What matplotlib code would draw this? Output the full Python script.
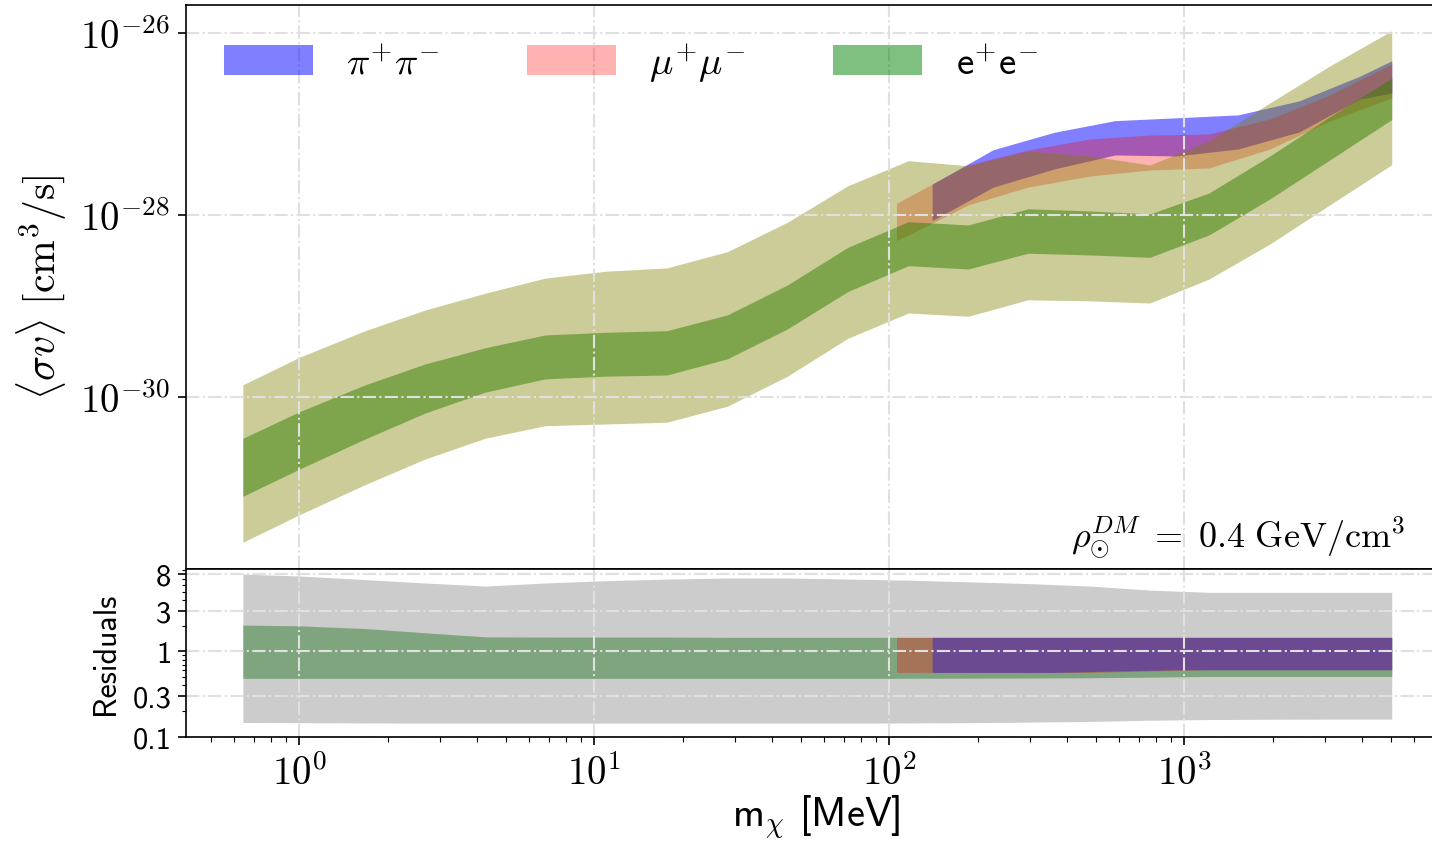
import numpy as np
import matplotlib
matplotlib.use("Agg")
import matplotlib.pyplot as plt
from matplotlib.patches import Patch
from matplotlib.ticker import (FixedLocator, FixedFormatter, NullLocator,
                               NullFormatter, LogLocator, FuncFormatter)

plt.rcParams['mathtext.fontset'] = 'cm'

# ---------------- data ----------------
mass_e = [0.643, 1.0, 1.67, 2.67, 4.26, 6.81, 10.9, 17.6, 28.2, 45.1, 72.3,
          116, 185, 295, 479, 764, 1211, 1950, 3110, 5047]
e_2s_up = [1.35e-30, 2.71e-30, 5.31e-30, 8.97e-30, 1.37e-29, 2.01e-29, 2.39e-29,
           2.60e-29, 3.92e-29, 8.25e-29, 2.08e-28, 3.92e-28, 3.45e-28, 5.01e-28,
           4.42e-28, 3.52e-28, 6.46e-28, 1.69e-27, 4.31e-27, 1.05e-26]
e_1s_up = [3.49e-31, 6.84e-31, 1.35e-30, 2.29e-30, 3.45e-30, 4.77e-30, 5.10e-30,
           5.31e-30, 7.91e-30, 1.69e-29, 4.38e-29, 8.38e-29, 7.71e-29, 1.16e-28,
           1.10e-28, 1.02e-28, 1.73e-28, 4.42e-28, 1.19e-27, 3.18e-27]
e_1s_lo = [8.04e-32, 1.60e-31, 3.43e-31, 6.62e-31, 1.12e-30, 1.57e-30, 1.68e-30,
           1.73e-30, 2.60e-30, 5.55e-30, 1.43e-29, 2.75e-29, 2.53e-29, 3.77e-29,
           3.61e-29, 3.40e-29, 5.98e-29, 1.49e-28, 3.99e-28, 1.11e-27]
e_2s_lo = [2.51e-32, 5.05e-32, 1.08e-31, 2.07e-31, 3.49e-31, 4.80e-31, 5.01e-31,
           5.24e-31, 7.85e-31, 1.68e-30, 4.38e-30, 8.31e-30, 7.65e-30, 1.16e-29,
           1.13e-29, 1.07e-29, 1.96e-29, 4.76e-29, 1.28e-28, 3.54e-28]

mass_mu = [105.7, 116, 185, 295, 479, 764, 1211, 1950, 3110, 5047]
mu_up = [1.33e-28, 1.57e-28, 3.52e-28, 5.14e-28, 6.79e-28, 7.51e-28, 7.71e-28,
         1.13e-27, 2.07e-27, 4.53e-27]
mu_lo = [5.18e-29, 5.98e-29, 1.28e-28, 2.01e-28, 2.66e-28, 3.10e-28, 3.26e-28,
         5.27e-28, 1.07e-27, 1.92e-27]

mass_pi = [139.6, 225, 362, 582, 938, 1521, 2449, 3944, 5047]
pi_up = [2.17e-28, 5.18e-28, 8.04e-28, 1.08e-27, 1.16e-27, 1.25e-27, 1.78e-27,
         3.34e-27, 4.92e-27]
pi_lo = [8.59e-29, 2.01e-28, 3.18e-28, 4.53e-28, 4.42e-28, 5.27e-28, 8.11e-28,
         1.87e-27, 2.17e-27]

# residuals
res_2s_up = [8.0, 7.6, 6.9, 6.3, 5.8, 6.3, 6.7, 7.0, 7.2, 7.2, 7.0, 6.8, 6.5,
             6.2, 5.8, 5.2, 4.9, 4.9, 4.9, 4.9]
res_2s_lo = [0.148, 0.147, 0.146, 0.145, 0.145, 0.145, 0.145, 0.145, 0.145, 0.145,
             0.145, 0.146, 0.147, 0.149, 0.152, 0.157, 0.160, 0.161, 0.162, 0.162]
res_1s_up = [2.03, 1.99, 1.85, 1.65, 1.48, 1.47, 1.47, 1.47, 1.46, 1.46, 1.46,
             1.46, 1.46, 1.46, 1.46, 1.46, 1.46, 1.46, 1.46, 1.46]
res_1s_lo = [0.484, 0.484, 0.484, 0.484, 0.484, 0.484, 0.484, 0.484, 0.484, 0.484,
             0.484, 0.485, 0.486, 0.488, 0.492, 0.50, 0.51, 0.51, 0.51, 0.51]
res_mu_up = [1.46, 1.46, 1.46, 1.46, 1.46, 1.46, 1.46, 1.46, 1.46, 1.46]
res_mu_lo = [0.568, 0.568, 0.568, 0.568, 0.568, 0.59, 0.61, 0.61, 0.61, 0.61]
res_pi_up = [1.46, 1.46, 1.46, 1.46, 1.46, 1.46, 1.46, 1.46, 1.46]
res_pi_lo = [0.568, 0.568, 0.568, 0.59, 0.61, 0.61, 0.61, 0.61, 0.61]

res_ticks = [0.1, 0.3, 1, 3, 8]
res_ticklabels = ['0.1', '0.3', '1', '3', '8']
labels = [r'$\pi^{+}\pi^{-}$', r'$\mu^{+}\mu^{-}$', r'e$^{+}$e$^{-}$']

SANS = 'cmss10'

# ---------------- figure ----------------
W, H = 1432, 845
fig = plt.figure(figsize=(W / 100, H / 100), dpi=100)


def px_rect(l, r, t, b):
    return [l / W, 1 - b / H, (r - l) / W, (b - t) / H]


def pow10(v, pos):
    return r'$10^{%d}$' % int(round(np.log10(v)))


ax = fig.add_axes(px_rect(185.5, 1449, 5.7, 569.5))
ax2 = fig.add_axes(px_rect(185.5, 1449, 569.5, 738), sharex=ax)

# top panel
ax.fill_between(mass_pi, pi_lo, pi_up, color='blue', alpha=0.5, lw=0)
ax.fill_between(mass_mu, mu_lo, mu_up, color='red', alpha=0.3, lw=0)
ax.fill_between(mass_e, e_1s_lo, e_1s_up, color='green', alpha=0.5, lw=0)
ax.fill_between(mass_e, e_2s_lo, e_2s_up, color='olive', alpha=0.4, lw=0)

ax.set_xscale('log')
ax.set_yscale('log')
ax.set_xlim(0.411, 7890)
ax.set_ylim(1.294e-32, 2.03e-26)
ax.yaxis.set_major_locator(FixedLocator([1e-30, 1e-28, 1e-26]))
ax.yaxis.set_major_formatter(FuncFormatter(pow10))
ax.yaxis.set_minor_locator(NullLocator())
ax.tick_params(axis='y', labelsize=28, length=6, width=1.2, pad=5)
ax.tick_params(axis='x', which='both', length=0, labelbottom=False)
ax.set_axisbelow(False)
ax.grid(True, which='major', color='#e0e0e0', ls='-.', lw=1.5)
ax.set_ylabel(r'$\langle\sigma v\rangle\ [\mathrm{cm}^3/\mathrm{s}]$', fontsize=30)
ax.yaxis.set_label_coords(-0.092, 0.5)

handles = [Patch(facecolor='blue', alpha=0.5, lw=0),
           Patch(facecolor='red', alpha=0.3, lw=0),
           Patch(facecolor='green', alpha=0.5, lw=0)]
leg = ax.legend(handles, labels, ncol=3, frameon=False, fontsize=28,
                loc='center left', bbox_to_anchor=(224 / W, 1 - 63 / H),
                bbox_transform=fig.transFigure, borderpad=0, borderaxespad=0,
                handlelength=2.29, handleheight=0.82, handletextpad=0.85,
                columnspacing=2.25)
leg.get_texts()[2].set_fontfamily(SANS)

fig.text(1405 / W, 1 - 548 / H,
         r'$\rho_{\odot}^{DM}\;=\;0.4\ \mathrm{GeV/cm^3}$',
         fontsize=26, ha='right', va='baseline')

# residual panel
ax2.fill_between(mass_e, res_1s_lo, res_1s_up, color='green', alpha=0.5, lw=0)
ax2.fill_between(mass_e, res_2s_lo, res_2s_up, color='gray', alpha=0.4, lw=0)
ax2.fill_between(mass_mu, res_mu_lo, res_mu_up, color='red', alpha=0.3, lw=0)
ax2.fill_between(mass_pi, res_pi_lo, res_pi_up, color='blue', alpha=0.35, lw=0)
ax2.set_yscale('log')
ax2.set_ylim(0.1, 9.3)
ax2.yaxis.set_major_locator(FixedLocator(res_ticks))
ax2.yaxis.set_major_formatter(FixedFormatter(res_ticklabels))
ax2.yaxis.set_minor_locator(LogLocator(base=10, subs=np.arange(2, 10)))
ax2.yaxis.set_minor_formatter(NullFormatter())
ax2.xaxis.set_major_formatter(FuncFormatter(pow10))
ax2.xaxis.set_minor_formatter(NullFormatter())
ax2.tick_params(axis='y', labelsize=22, length=6, width=1.2, pad=4)
ax2.tick_params(axis='y', which='minor', length=3, width=0.8)
ax2.tick_params(axis='x', labelsize=28, length=6, width=1.2, pad=6)
ax2.tick_params(axis='x', which='minor', length=3.5, width=0.8)
for t in ax2.get_yticklabels():
    t.set_fontfamily(SANS)
ax2.set_axisbelow(False)
ax2.grid(True, which='major', color='#e0e0e0', ls='-.', lw=1.5)
ax2.set_ylabel('Residuals', fontsize=23, fontfamily=SANS)
ax2.yaxis.set_label_coords(-0.052, 0.5)
ax2.set_xlabel(r'm$_{\chi}$ [MeV]', fontsize=29, fontfamily=SANS)
ax2.xaxis.set_label_coords(0.499, -0.33)

for a in (ax, ax2):
    for s in a.spines.values():
        s.set_linewidth(1.2)
        s.set_zorder(5)

fig.savefig('out.png', dpi=100)
